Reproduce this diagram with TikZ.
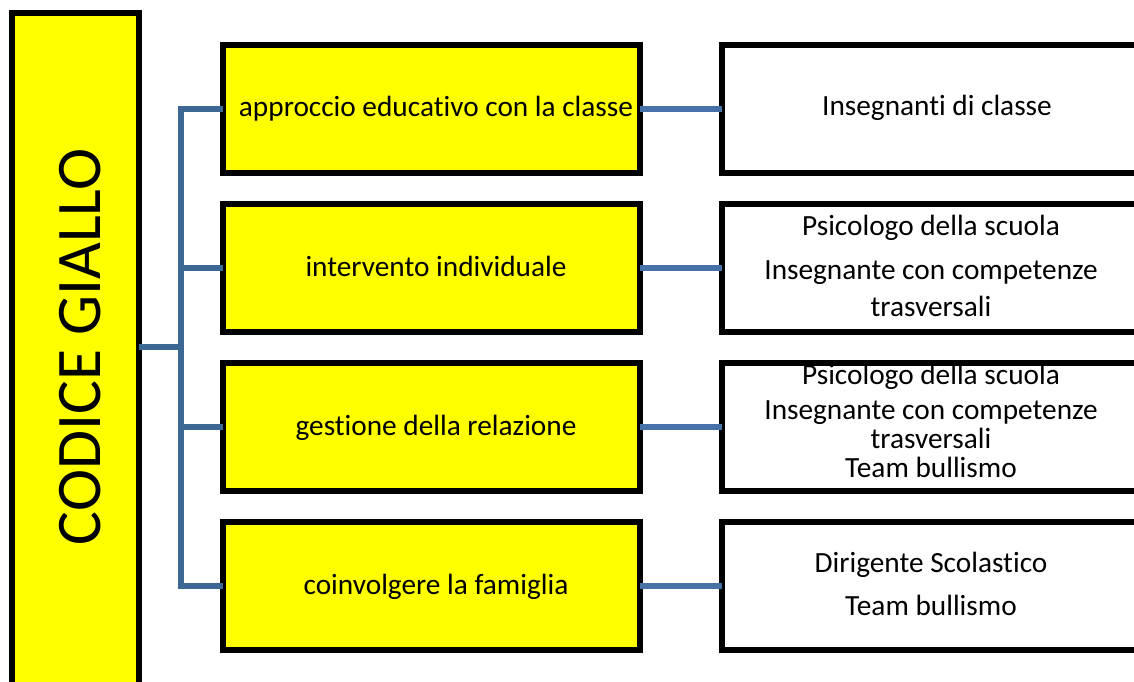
\documentclass[tikz,border=0pt]{standalone}
\usepackage{fontspec}
\setmainfont[Ligatures=NoCommon]{Carlito}
\definecolor{yel}{HTML}{FFFF00}
\definecolor{connL}{HTML}{3D6896}
\definecolor{connR}{HTML}{4672A8}
\begin{document}
\begin{tikzpicture}[x=1pt,y=-1pt,
  box/.style={draw=black, line width=6pt, rectangle, inner sep=0pt, outer sep=0pt, minimum height=128pt},
  ybox/.style={box, fill=yel, minimum width=417pt},
  wbox/.style={box, fill=white, minimum width=438pt},
  txt/.style={font=\fontsize{29.3}{35}\selectfont, anchor=base, inner sep=0pt, text=black},
  conn/.style={line width=6pt, connL, line join=miter},
  connr/.style={line width=6pt, connR}]
\useasboundingbox (0,0) rectangle (1134,681);
\clip (0,0) rectangle (1134,681);
% main box
\node[box, fill=yel, minimum width=127pt, minimum height=700pt, anchor=north west] (code) at (12,13) {};
\node[rotate=90, anchor=base, inner sep=0pt, font=\fontsize{63.5}{70}\selectfont] (codet) at (100,347) {CODICE GIALLO};
% yellow boxes
\node[ybox] (y1) at (431.5,109) {};
\node[ybox] (y2) at (431.5,268) {};
\node[ybox] (y3) at (431.5,427) {};
\node[ybox] (y4) at (431.5,586) {};
% white boxes
\node[wbox] (w1) at (941,109) {};
\node[wbox] (w2) at (941,268) {};
\node[wbox] (w3) at (941,427) {};
\node[wbox] (w4) at (941,586) {};
% connectors
\coordinate (tr) at (181,347);
\draw[conn] (code.east |- tr) -- (tr);
\draw[conn] (y1.west) -- (y1.west -| tr) -- (y4.west -| tr) -- (y4.west);
\draw[conn] (y2.west -| tr) -- (y2.west);
\draw[conn] (y3.west -| tr) -- (y3.west);
\draw[connr] (y1.east) -- (w1.west);
\draw[connr] (y2.east) -- (w2.west);
\draw[connr] (y3.east) -- (w3.west);
\draw[connr] (y4.east) -- (w4.west);
% yellow texts
\node[txt] (t1) at (436,116) {approccio educativo con la classe};
\node[txt] (t2) at (436,276) {intervento individuale};
\node[txt] (t3) at (436,435) {gestione della relazione};
\node[txt] (t4) at (436,594) {coinvolgere la famiglia};
% white texts
\node[txt] (r1a) at (937,115) {Insegnanti di classe};
\node[txt] (r2a) at (931,235) {Psicologo della scuola};
\node[txt] (r2b) at (931,279) {Insegnante con competenze};
\node[txt] (r2c) at (931,316) {trasversali};
\node[txt] (r3a) at (931,384) {Psicologo della scuola};
\node[txt] (r3b) at (931,419) {Insegnante con competenze};
\node[txt] (r3c) at (931,448) {trasversali};
\node[txt] (r3d) at (931,477) {Team bullismo};
\node[txt] (r4a) at (931,572) {Dirigente Scolastico};
\node[txt] (r4b) at (931,615) {Team bullismo};
\end{tikzpicture}
\end{document}
